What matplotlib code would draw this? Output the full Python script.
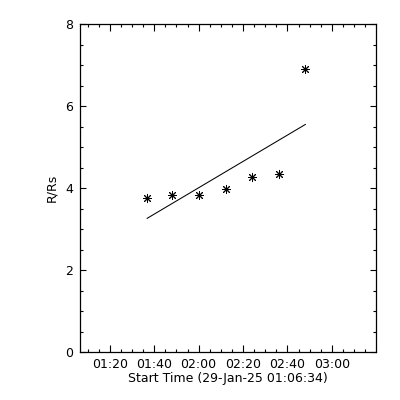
import numpy as np
import matplotlib
matplotlib.use("Agg")
import matplotlib.pyplot as plt
from matplotlib.ticker import FixedLocator, MultipleLocator

# start time 29-Jan-25 01:06:34
t0 = "01:06:34"
obs_times = ["01:36:48", "01:48:04", "02:00:15", "02:12:18", "02:24:10", "02:36:21", "02:48:05"]
heights = [3.76, 3.83, 3.83, 3.97, 4.26, 4.34, 6.91]

fit_times = ["01:36:48", "02:48:05"]
fit_heights = [3.26, 5.55]

tick_labels = ["01:20", "01:40", "02:00", "02:20", "02:40", "03:00"]


def secs(s):
    p = [int(v) for v in s.split(":")]
    h, m = p[0], p[1]
    sec = p[2] if len(p) > 2 else 0
    return h * 3600 + m * 60 + sec


ref = secs(t0)
x_obs = np.array([secs(t) - ref for t in obs_times])
x_fit = np.array([secs(t) - ref for t in fit_times])
x_ticks = [secs(t) - ref for t in tick_labels]
x_minor = np.arange(secs("01:10") - ref, 8000, 300)

plt.rcParams["font.family"] = "DejaVu Sans"
plt.rcParams["font.size"] = 9

fig = plt.figure(figsize=(4, 4), dpi=100)
ax = fig.add_axes([0.2, 0.12, 0.74, 0.82])

ax.plot(x_fit, fit_heights, color="black", lw=0.75)
ax.plot(x_obs, heights, linestyle="none", marker=(8, 2, 0), markersize=6.5,
        markeredgewidth=0.7, color="black")

ax.set_xlim(0, 8000)
ax.set_ylim(0, 8)
ax.xaxis.set_major_locator(FixedLocator(x_ticks))
ax.set_xticklabels(tick_labels)
ax.xaxis.set_minor_locator(FixedLocator(x_minor))
ax.yaxis.set_major_locator(MultipleLocator(2))
ax.yaxis.set_minor_locator(MultipleLocator(0.5))

ax.tick_params(which="both", direction="in", top=True, right=True, width=0.8, colors="black")
ax.tick_params(axis="x", which="major", length=4.8, pad=4)
ax.tick_params(axis="x", which="minor", length=2.4)
ax.tick_params(axis="y", which="major", length=4.3, pad=5)
ax.tick_params(axis="y", which="minor", length=2.2)
for sp in ax.spines.values():
    sp.set_linewidth(0.9)

ax.set_xlabel("Start Time (29-Jan-25 01:06:34)", labelpad=1)
ax.set_ylabel("R/Rs", labelpad=5)

plt.savefig("out.png", dpi=100)
